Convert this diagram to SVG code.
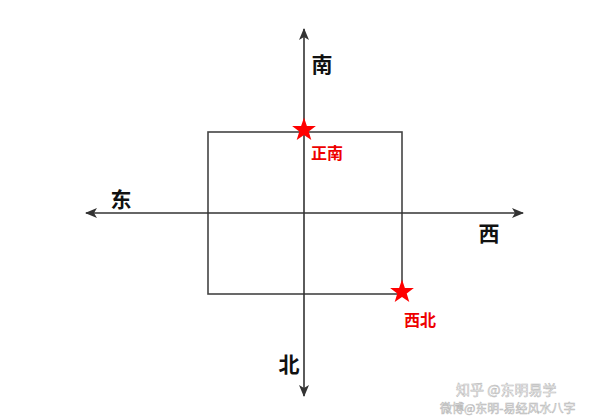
<svg xmlns="http://www.w3.org/2000/svg" width="600" height="417" viewBox="0 0 600 417">
<style>
.axis{stroke:#333;stroke-width:1.6;fill:none}
.box{stroke:#444;stroke-width:1.6;fill:none}
.dir{font-family:"Noto Sans CJK SC","Liberation Sans",sans-serif;font-size:21px;fill:#111;font-weight:bold}
.lbl{font-family:"Noto Sans CJK SC","Liberation Sans",sans-serif;font-size:16px;fill:#e00;font-weight:bold}
.star{fill:#ff0000}
.wm{font-family:"Noto Sans CJK SC","Liberation Sans",sans-serif;fill:#fff;stroke:#bbb;stroke-width:0.6}
</style>
<defs>
<marker id="arr" viewBox="0 0 12 10" refX="11" refY="5" markerWidth="12" markerHeight="10" markerUnits="userSpaceOnUse" orient="auto">
<path d="M0,0 L12,5 L0,10 L3,5 Z" fill="#333"/>
</marker>
<path id="starShape" d="M0,-12.5 L2.9,-4 L11.9,-3.9 L4.7,1.5 L7.3,10.1 L0,5 L-7.3,10.1 L-4.7,1.5 L-11.9,-3.9 L-2.9,-4 Z"/>
</defs>
<rect width="600" height="417" fill="#fff"/>
<g id="square">
<rect class="box" x="208" y="132" width="194" height="162"/>
</g>
<g id="connectors">
<line class="axis" x1="304" y1="213" x2="304" y2="29" marker-end="url(#arr)"/>
<line class="axis" x1="304" y1="213" x2="304" y2="396" marker-end="url(#arr)"/>
<line class="axis" x1="304" y1="213" x2="523" y2="213" marker-end="url(#arr)"/>
<line class="axis" x1="304" y1="213" x2="86" y2="213" marker-end="url(#arr)"/>
</g>
<g id="south">
<text class="dir" x="322" y="72" text-anchor="middle">南</text>
</g>
<g id="east">
<text class="dir" x="121" y="207" text-anchor="middle">东</text>
</g>
<g id="west">
<text class="dir" x="489" y="241" text-anchor="middle">西</text>
</g>
<g id="north">
<text class="dir" x="289" y="372" text-anchor="middle">北</text>
</g>
<g id="due-south">
<use href="#starShape" class="star" x="304" y="130"/>
<text class="lbl" x="327" y="159" text-anchor="middle">正南</text>
</g>
<g id="northwest">
<use href="#starShape" class="star" x="402" y="292"/>
<text class="lbl" x="420" y="326" text-anchor="middle">西北</text>
</g>
<g id="watermark">
<text class="wm" x="456" y="395" font-size="14">知乎 @东明易学</text>
<text class="wm" x="440" y="413" font-size="12">微博@东明-易经风水八字</text>
</g>
</svg>
